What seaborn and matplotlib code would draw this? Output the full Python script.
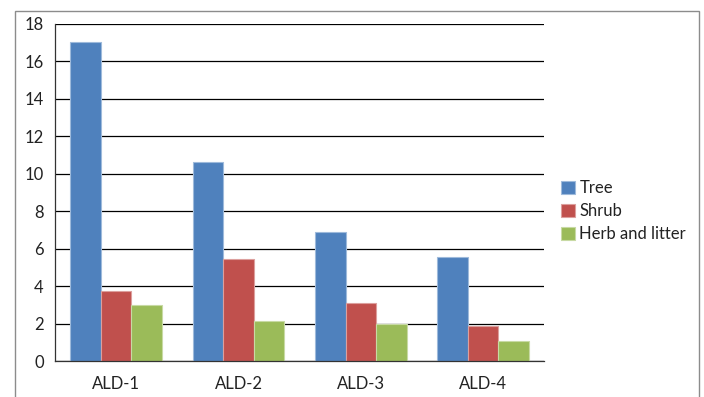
import numpy as np
import pandas as pd
import matplotlib
matplotlib.use("Agg")
import matplotlib.pyplot as plt
import seaborn as sns
from matplotlib.patches import Rectangle
from matplotlib.colors import to_rgb

# ==========================
# Data
# ==========================
sites = ["ALD-1", "ALD-2", "ALD-3", "ALD-4"]
groups = ["Tree", "Shrub", "Herb and litter"]
tree = [17.0, 10.6, 6.88, 5.55]
shrub = [3.75, 5.44, 3.09, 1.88]
herb = [3.0, 2.12, 1.97, 1.07]
y_ticks = [0, 2, 4, 6, 8, 10, 12, 14, 16, 18]

df = pd.DataFrame({
    "Site": sites * 3,
    "Group": [g for g in groups for _ in sites],
    "Value": tree + shrub + herb,
})

colors = ["#4F81BD", "#C0504D", "#9BBB59"]

# ==========================
# Plot
# ==========================
sns.set_style("white")
plt.rcParams["font.family"] = ["Lato", "DejaVu Sans"]

fig = plt.figure(figsize=(7.04, 3.97), dpi=100)
ax = fig.add_axes([55 / 704, 36 / 397, 489.3 / 704, 337.3 / 397])

sns.barplot(data=df, x="Site", y="Value", hue="Group", palette=colors,
            width=0.75, gap=0, saturation=1, ax=ax, legend=False)

# light edge on each bar, like the original
for p in ax.patches:
    fc = np.array(to_rgb(p.get_facecolor()))
    p.set_edgecolor(fc + (1 - fc) * 0.45)
    p.set_linewidth(0.8)

ax.set_ylim(0, 18)
ax.set_xlim(-0.5, 3.5)
ax.set_yticks(y_ticks)
ax.yaxis.grid(True, color="black", linewidth=0.9)
ax.set_axisbelow(True)
ax.set_xlabel("")
ax.set_ylabel("")

for s in ["top", "right"]:
    ax.spines[s].set_visible(False)
for s in ["left", "bottom"]:
    ax.spines[s].set_color("#333333")
    ax.spines[s].set_linewidth(0.9)

ax.tick_params(axis="y", length=5, width=0.9, color="#333333", pad=3,
               labelsize=12, labelcolor="#222222")
ax.set_xticks(np.arange(-0.5, 4, 1), minor=True)
ax.tick_params(axis="x", which="minor", length=5, width=0.9, color="#333333")
ax.tick_params(axis="x", which="major", length=0, pad=11,
               labelsize=12, labelcolor="#222222")

# legend
handles = [Rectangle((0, 0), 1, 1, facecolor=c,
                     edgecolor=tuple(np.array(to_rgb(c)) + (1 - np.array(to_rgb(c))) * 0.45),
                     linewidth=0.8) for c in colors]
fig.legend(handles, groups, loc="upper left",
           bbox_to_anchor=(561 / 704, (397 - 180) / 397),
           frameon=False, fontsize=12, borderpad=0, borderaxespad=0,
           handlelength=0.85, handleheight=0.8, handletextpad=0.25,
           labelspacing=0.42, labelcolor="#222222")

# outer chart border
fig.patches.append(Rectangle((15 / 704, -0.1), 684 / 704, (397 - 11) / 397 + 0.1,
                             transform=fig.transFigure, fill=False,
                             edgecolor="#8c8c8c", linewidth=1.0))

fig.savefig("out.png", dpi=100)
